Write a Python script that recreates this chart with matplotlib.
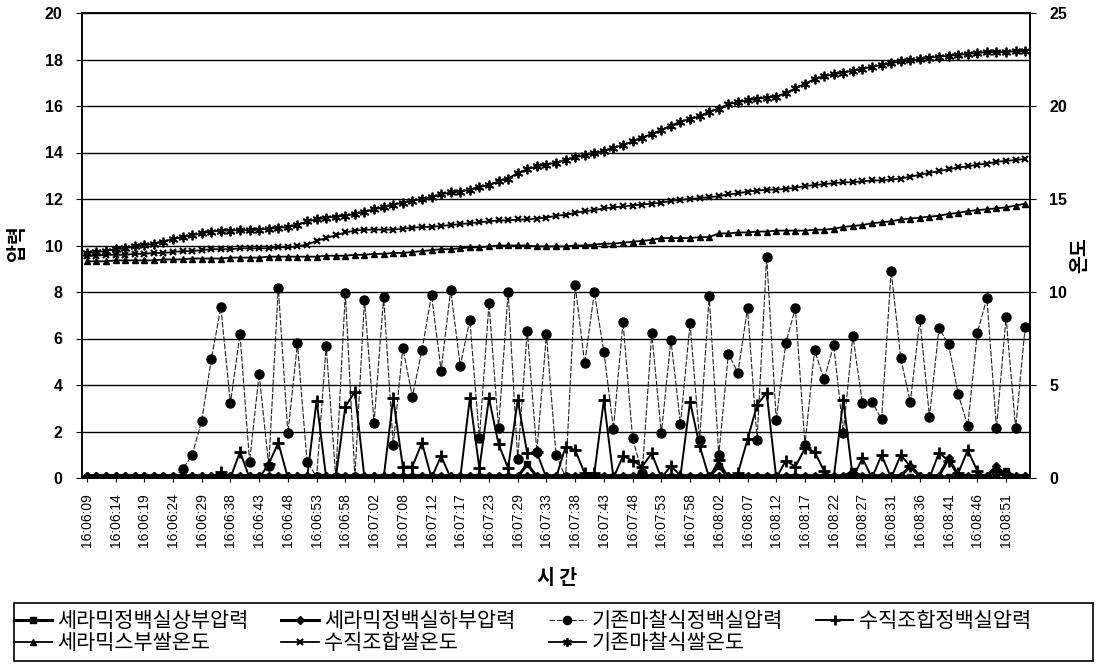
import matplotlib
matplotlib.use('Agg')
import matplotlib.pyplot as plt
from matplotlib.patches import Rectangle
import numpy as np

# time labels (one every 3 samples)
time_labels = ['16:06:09', '16:06:14', '16:06:19', '16:06:24', '16:06:29', '16:06:38',
               '16:06:43', '16:06:48', '16:06:53', '16:06:58', '16:07:02', '16:07:08',
               '16:07:12', '16:07:17', '16:07:23', '16:07:29', '16:07:33', '16:07:38',
               '16:07:43', '16:07:48', '16:07:53', '16:07:58', '16:08:02', '16:08:07',
               '16:08:12', '16:08:17', '16:08:22', '16:08:27', '16:08:31', '16:08:36',
               '16:08:41', '16:08:46', '16:08:51']
label_step = 3

# pressure series (left axis)
ceramic_top_p = [0.05] * 46 + [0.6] + [0.05] * 19 + [0.5] + [0.05] * 13 + [0.3] + [0.05] * 15 + [0.3, 0.05, 0.05]
ceramic_bottom_p = [0.1] * 86 + [0.5, 0.1, 0.1, 0.1, 0.85, 0.1, 0.1, 0.1, 0.1, 0.5, 0.1, 0.1, 0.1]
friction_p = [0, 0, 0, 0, 0, 0, 0, 0, 0, 0,
              0.37, 0.99, 2.46, 5.1, 7.34, 3.21, 6.18, 0.7, 4.49, 0.52,
              8.19, 1.92, 5.79, 0.7, 0.05, 5.68, 0.05, 7.97, 0.05, 7.66,
              2.38, 7.77, 1.42, 5.6, 3.5, 5.5, 7.87, 4.62, 8.09, 4.82,
              6.8, 1.71, 7.51, 2.14, 8.01, 0.8, 6.32, 1.13, 6.18, 0.99,
              0.05, 8.3, 4.93, 7.98, 5.43, 2.11, 6.72, 1.71, 0.2, 6.22,
              1.92, 5.94, 2.32, 6.65, 1.63, 7.83, 0.99, 5.33, 4.53, 7.3,
              1.63, 9.52, 2.49, 5.82, 7.3, 1.42, 5.5, 4.24, 5.72, 1.95,
              6.12, 3.21, 3.28, 2.52, 8.92, 5.15, 3.26, 6.82, 2.64, 6.44,
              5.75, 3.61, 2.24, 6.25, 7.73, 2.14, 6.91, 2.14, 6.51]
vertical_p = [0, 0, 0, 0, 0, 0, 0, 0, 0, 0,
              0, 0, 0, 0, 0.27, 0, 1.13, 0, 0, 0.6,
              1.52, 0, 0, 0, 3.33, 0, 0, 3.07, 3.71, 0,
              0, 0, 3.43, 0.49, 0.49, 1.52, 0, 0.95, 0, 0,
              3.43, 0.42, 3.43, 1.46, 0.42, 3.35, 1.06, 1.1, 0, 0,
              1.35, 1.2, 0.2, 0.2, 3.35, 0, 0.95, 0.74, 0.49, 1.06,
              0, 0.52, 0.1, 3.28, 1.38, 0, 0.77, 0, 0.2, 1.66,
              3.14, 3.67, 0, 0.74, 0.49, 1.28, 1.13, 0.3, 0, 3.35,
              0, 0.85, 0, 0.99, 0, 0.99, 0.5, 0, 0, 1.09,
              0.74, 0.2, 1.2, 0.3, 0, 0.3, 0, 0, 0]

# rice temperature series (right axis)
ceramic_t = [11.65, 11.65, 11.65, 11.7, 11.7, 11.7, 11.7, 11.7, 11.75, 11.75,
             11.75, 11.8, 11.8, 11.8, 11.8, 11.85, 11.85, 11.85, 11.85, 11.9,
             11.9, 11.9, 11.9, 11.9, 11.9, 11.95, 11.95, 11.95, 12.0, 12.0,
             12.05, 12.05, 12.1, 12.1, 12.15, 12.2, 12.25, 12.3, 12.3, 12.35,
             12.4, 12.4, 12.45, 12.5, 12.5, 12.5, 12.5, 12.45, 12.45, 12.45,
             12.45, 12.5, 12.5, 12.55, 12.6, 12.6, 12.65, 12.7, 12.75, 12.8,
             12.9, 12.9, 12.9, 12.9, 12.95, 12.95, 13.15, 13.15, 13.2, 13.2,
             13.25, 13.25, 13.3, 13.3, 13.3, 13.3, 13.35, 13.35, 13.4, 13.5,
             13.55, 13.6, 13.7, 13.75, 13.8, 13.9, 13.95, 14.0, 14.05, 14.1,
             14.2, 14.25, 14.35, 14.4, 14.45, 14.5, 14.55, 14.65, 14.75]
vertical_t = [11.95, 11.95, 12.0, 12.0, 12.0, 12.05, 12.05, 12.1, 12.1, 12.15,
              12.2, 12.2, 12.25, 12.3, 12.3, 12.3, 12.35, 12.35, 12.35, 12.35,
              12.4, 12.4, 12.45, 12.55, 12.75, 12.9, 13.05, 13.2, 13.3, 13.35,
              13.35, 13.35, 13.35, 13.4, 13.45, 13.5, 13.5, 13.55, 13.6, 13.65,
              13.7, 13.75, 13.8, 13.85, 13.85, 13.9, 13.9, 13.95, 14.0, 14.1,
              14.15, 14.25, 14.35, 14.4, 14.5, 14.55, 14.6, 14.65, 14.7, 14.75,
              14.8, 14.9, 14.95, 15.0, 15.05, 15.1, 15.15, 15.25, 15.3, 15.4,
              15.45, 15.5, 15.5, 15.55, 15.6, 15.7, 15.75, 15.8, 15.85, 15.9,
              15.9, 15.95, 16.0, 16.0, 16.05, 16.1, 16.2, 16.3, 16.4, 16.5,
              16.6, 16.7, 16.75, 16.85, 16.9, 17.0, 17.05, 17.1, 17.15]
friction_t = [12.1, 12.15, 12.2, 12.3, 12.35, 12.45, 12.5, 12.6, 12.7, 12.85,
              12.95, 13.05, 13.15, 13.25, 13.3, 13.3, 13.33, 13.33, 13.35, 13.4,
              13.45, 13.5, 13.6, 13.8, 13.9, 14.0, 14.05, 14.1, 14.2, 14.3,
              14.45, 14.55, 14.7, 14.8, 14.9, 15.0, 15.1, 15.25, 15.35, 15.4,
              15.5, 15.65, 15.75, 15.95, 16.1, 16.4, 16.6, 16.75, 16.85, 16.95,
              17.1, 17.25, 17.35, 17.45, 17.6, 17.75, 17.9, 18.1, 18.3, 18.5,
              18.7, 18.95, 19.15, 19.3, 19.45, 19.7, 19.85, 20.1, 20.2, 20.3,
              20.4, 20.45, 20.5, 20.7, 20.95, 21.2, 21.45, 21.6, 21.7, 21.8,
              21.9, 22.0, 22.1, 22.2, 22.3, 22.4, 22.45, 22.5, 22.6, 22.65,
              22.7, 22.75, 22.8, 22.85, 22.9, 22.9, 22.9, 22.95, 22.95]

names = ['세라믹정백실상부압력', '세라믹정백실하부압력', '기존마찰식정백실압력', '수직조합정백실압력',
         '세라믹스부쌀온도', '수직조합쌀온도', '기존마찰식쌀온도']

kfont = ['Noto Sans CJK KR', 'DejaVu Sans']
nfont = ['Liberation Sans', 'DejaVu Sans']

x = np.arange(len(friction_p))

fig = plt.figure(figsize=(11.07, 6.71), dpi=100)
ax = fig.add_axes([82 / 1107, 1 - 478 / 671, 948 / 1107, 465 / 671])
ax2 = ax.twinx()

h = []
h += ax.plot(x, ceramic_top_p, color='black', lw=2.2, marker='s', ms=4.5, label=names[0])
h += ax.plot(x, ceramic_bottom_p, color='black', lw=2.2, marker='D', ms=4, label=names[1])
h += ax.plot(x, friction_p, color='#222222', lw=0.8, ls=(0, (5, 1.5)), marker='o', ms=6.5,
             mfc='black', mec='black', label=names[2])
h += ax.plot(x, vertical_p, color='black', lw=1.4, marker='+', ms=8, mew=2, label=names[3])
h += ax2.plot(x, ceramic_t, color='black', lw=1.3, marker='^', ms=5, label=names[4])
h += ax2.plot(x, vertical_t, color='black', lw=1.3, marker='x', ms=5, mew=1.5, label=names[5])
h += ax2.plot(x, friction_t, color='black', lw=1.3, marker=(6, 2, 0), ms=7, mew=1.3, label=names[6])

ax.set_xlim(-0.5, len(x) - 0.5)
ax.set_ylim(0, 20)
ax2.set_ylim(0, 25)
ax.set_yticks(range(0, 21, 2))
ax2.set_yticks(range(0, 26, 5))
ax.grid(axis='y', color='black', lw=1.0)
ax.set_axisbelow(True)

ax.set_xticks(x[::label_step])
ax.set_xticklabels(time_labels, rotation=90, family=nfont, fontsize=10)
ax.tick_params(axis='x', length=3, pad=8)
ax.tick_params(axis='y', length=4, pad=10)
ax2.tick_params(axis='y', length=4, pad=10)
for lab in ax.get_yticklabels() + ax2.get_yticklabels():
    lab.set_family(nfont)
    lab.set_fontweight('bold')
    lab.set_fontsize(11.5)

for a in (ax, ax2):
    for s in a.spines.values():
        s.set_linewidth(1.2)
        s.set_color('black')

fig.text(557 / 1107, 1 - 578 / 671, '시 간', family=kfont, fontweight='bold', fontsize=14,
         ha='center', va='center')
fig.text(18 / 1107, 1 - 243 / 671, '압력', family=kfont, fontweight='bold', fontsize=14,
         ha='center', va='center', rotation=90)
fig.text(1080 / 1107, 1 - 255 / 671, '온도', family=kfont, fontweight='bold', fontsize=14,
         ha='center', va='center', rotation=90)

# legend: entries fill row-wise, frame drawn as a separate box
order = [0, 4, 1, 5, 2, 6, 3]
leg = fig.legend([h[i] for i in order], [names[i] for i in order], ncol=4, loc='center left',
                 bbox_to_anchor=(12 / 1107, 1 - 632 / 671), prop={'family': kfont, 'size': 15},
                 frameon=False, handlelength=1.8, handletextpad=0.25, borderaxespad=0,
                 labelspacing=0.02, borderpad=0.1, columnspacing=1.6, markerscale=0.9)
fig.add_artist(Rectangle((14 / 1107, 1 - 661 / 671), 1079 / 1107, 58 / 671,
                         transform=fig.transFigure, fill=False, lw=1.2, ec='black'))

fig.savefig('out.png', dpi=100, facecolor='white')
